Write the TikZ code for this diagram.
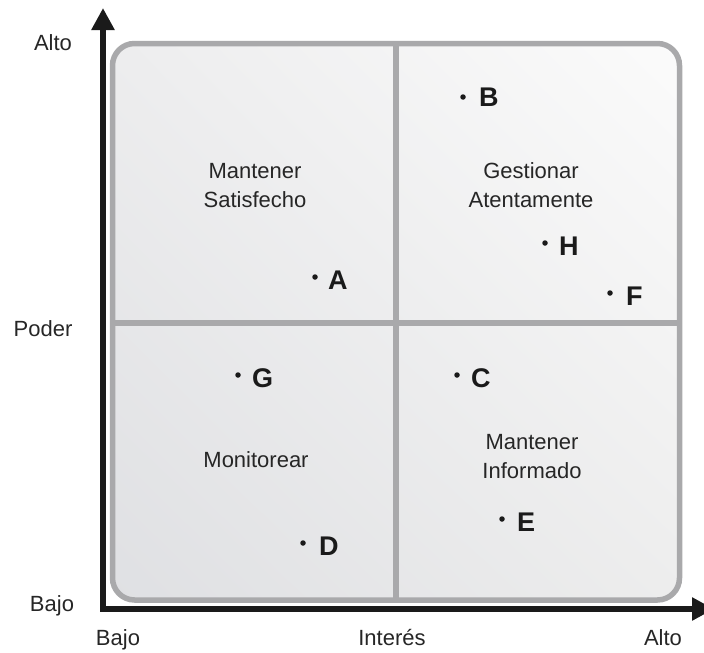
\documentclass[tikz,border=0pt]{standalone}
\usepackage{fontspec}
\setmainfont{Liberation Sans}
\usetikzlibrary{arrows.meta,shadings}
\definecolor{framegray}{HTML}{A9A9AB}
\definecolor{labgray}{HTML}{262626}
\definecolor{axisblack}{HTML}{1A1A1A}
\definecolor{fillUL}{HTML}{EDEDEE}
\definecolor{fillUR}{HTML}{FBFBFB}
\definecolor{fillLL}{HTML}{DFE0E3}
\definecolor{fillLR}{HTML}{EDEDED}
\begin{document}
\begin{tikzpicture}[x=1pt,y=-1pt,
  lab/.style={font=\fontsize{22}{29}\selectfont, text=labgray, anchor=base, inner sep=0pt, align=center},
  letter/.style={font=\bfseries\fontsize{27}{30}\selectfont, text=axisblack, anchor=base west, inner sep=0pt},
  dot/.style={circle, fill=axisblack, draw=none, inner sep=0pt, minimum size=5.5pt},
  frame/.style={line width=5.5pt, draw=framegray},
  axis/.style={line width=6pt, draw=axisblack, line join=miter,
    {Triangle[length=22pt,width=22pt]}-{Triangle[length=22pt,width=22pt]}}]
\useasboundingbox (0,0) rectangle (704,653);
% frame
\coordinate (tl) at (112.5,43.5);
\coordinate (br) at (679.5,600);
\shade[rounded corners=22pt, upper left=fillUL, upper right=fillUR,
  lower left=fillLL, lower right=fillLR] (tl) rectangle (br);
\draw[frame, rounded corners=22pt] (tl) rectangle (br);
\coordinate (vt) at (396,43.5);
\coordinate (vb) at (396,600);
\coordinate (hl) at (112.5,323);
\coordinate (hr) at (679.5,323);
\draw[frame] (vt) -- (vb);
\draw[frame] (hl) -- (hr);
% axes
\coordinate (O) at (103,609);
\coordinate (ytip) at (103,8);
\coordinate (xtip) at (714,609);
\draw[axis] (ytip) -- (O) -- (xtip);
% axis labels
\node[lab] (yalto) at (53,50) {Alto};
\node[lab] (ypoder) at (43,336) {Poder};
\node[lab] (ybajo) at (52,611) {Bajo};
\node[lab] (xbajo) at (118,645) {Bajo};
\node[lab] (xint) at (392,645) {Interés};
\node[lab] (xalto) at (663,645) {Alto};
% quadrant labels (base = baseline of last line)
\node[lab] (q1) at (255,207) {Mantener\\Satisfecho};
\node[lab] (q2) at (531,207) {Gestionar\\Atentamente};
\node[lab] (q3) at (256,467) {Monitorear};
\node[lab] (q4) at (532,478) {Mantener\\Informado};
% points
\node[dot] (dB) at (463,97) {};   \node[letter] (lB) at (479,106) {B};
\node[dot] (dH) at (545,243) {};  \node[letter] (lH) at (559,255) {H};
\node[dot] (dF) at (610,293) {};  \node[letter] (lF) at (626,305) {F};
\node[dot] (dA) at (315,277) {};  \node[letter] (lA) at (328,289) {A};
\node[dot] (dG) at (238,375) {};  \node[letter] (lG) at (252,387) {G};
\node[dot] (dC) at (457,375) {};  \node[letter] (lC) at (471,387) {C};
\node[dot] (dE) at (502,519) {};  \node[letter] (lE) at (517,531) {E};
\node[dot] (dD) at (303,543) {};  \node[letter] (lD) at (319,555) {D};
\end{tikzpicture}
\end{document}
